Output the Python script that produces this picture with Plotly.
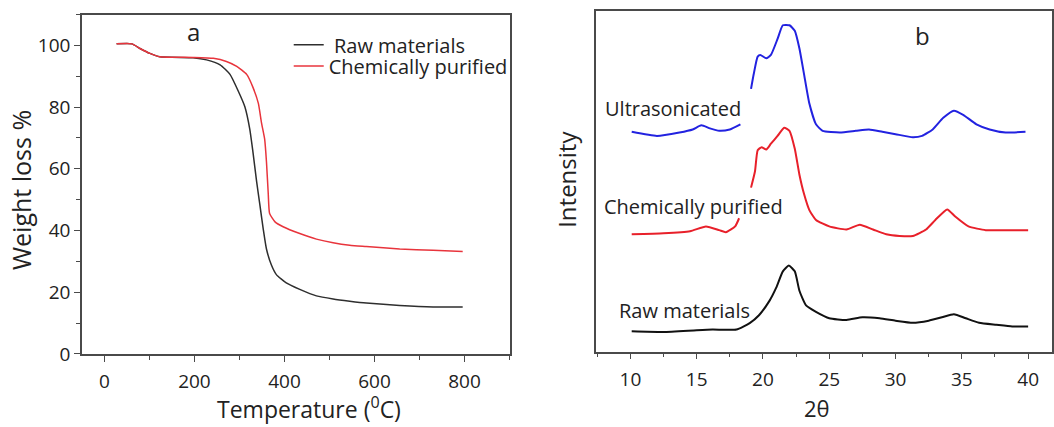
import plotly.graph_objects as go

# ---- Panel a: TGA ----
tga_raw_T = [27, 61, 79, 101, 123, 197, 227, 257, 279, 297, 312, 323, 330, 338, 345, 353, 360, 371, 382, 404, 434, 471, 508, 545, 582, 656, 730, 796]
tga_raw_W = [100.5, 100.5, 99.0, 97.4, 96.3, 96.0, 95.3, 93.7, 90.6, 85.3, 80.1, 72.8, 65.4, 56.0, 48.7, 40.3, 34.0, 28.8, 25.7, 23.0, 20.9, 18.8, 17.8, 17.1, 16.5, 15.7, 15.2, 15.2]
tga_pur_T = [27, 61, 79, 101, 123, 197, 242, 271, 294, 316, 330, 342, 349, 356, 360, 364, 367, 379, 397, 434, 471, 508, 545, 582, 656, 730, 796]
tga_pur_W = [100.5, 100.5, 99.0, 97.4, 96.3, 96.1, 95.8, 94.8, 93.2, 90.6, 86.4, 81.2, 74.9, 69.6, 62.3, 51.8, 45.5, 42.8, 41.2, 39.0, 37.2, 36.0, 35.2, 34.8, 34.0, 33.6, 33.2]

# ---- Panel b: XRD (arbitrary intensity units, stacked) ----
xrd_raw_x = [10.1, 12.5, 15.0, 16.2, 18.0, 19.0, 19.7, 20.5, 21.0, 21.5, 21.95, 22.4, 22.75, 23.25, 24.0, 25.0, 26.3, 27.5, 28.8, 30.0, 31.3, 32.5, 33.5, 34.4, 35.3, 36.3, 37.6, 38.8, 40.0]
xrd_raw_y = [6.0, 5.8, 6.3, 6.5, 6.5, 8.4, 10.7, 15.0, 18.8, 23.6, 25.3, 23.6, 17.9, 13.6, 11.7, 9.8, 9.3, 10.1, 9.8, 9.1, 8.5, 9.1, 10.1, 11.0, 9.8, 8.5, 7.9, 7.4, 7.4]

xrd_pur_x = [10.1, 12.5, 14.5, 15.7, 16.7, 17.2, 17.9, 18.2, None,
             19.1, 19.4, 19.6, 19.9, 20.25, 20.6, 21.1, 21.6, 22.0, 22.4, 22.75, 23.1, 23.5, 24.0, 25.0, 26.3, 27.3, 28.3, 29.3, 30.3, 31.3, 32.3, 33.0, 33.9, 34.5, 35.5, 36.8, 38.0, 40.0]
xrd_pur_y = [34.5, 34.8, 35.4, 36.8, 35.7, 35.1, 36.8, 39.2, None,
             48.2, 53.0, 59.2, 60.1, 59.4, 61.1, 63.4, 65.8, 64.9, 59.6, 52.0, 46.3, 41.6, 38.7, 36.8, 35.9, 37.3, 35.9, 34.5, 34.0, 34.0, 35.9, 38.7, 41.8, 39.7, 36.8, 35.7, 35.7, 35.7]

xrd_son_x = [10.1, 12.0, 13.7, 14.7, 15.35, 16.0, 16.7, 17.5, 18.3, None,
             19.1, 19.3, 19.6, 19.8, 20.25, 20.6, 21.1, 21.5, 22.0, 22.4, 22.75, 23.1, 23.5, 24.0, 24.5, 25.8, 27.0, 28.0, 29.0, 30.0, 31.3, 32.0, 32.8, 33.6, 34.4, 35.1, 36.1, 37.1, 38.3, 39.8]
xrd_son_y = [64.6, 63.4, 64.4, 65.3, 66.5, 65.6, 64.9, 65.3, 66.8, None,
             77.2, 81.5, 86.7, 87.2, 86.2, 87.2, 91.9, 95.9, 95.9, 94.3, 89.1, 81.5, 72.9, 66.8, 64.9, 64.4, 64.9, 65.3, 64.6, 63.9, 63.0, 63.4, 65.3, 68.7, 70.8, 69.6, 66.8, 65.3, 64.4, 64.6]

W, H = 1054, 427
FONT = "Open Sans"
TXT = "#222222"
AX = "#4a4a4a"

def px(x):
    return x / W

def py(y):
    return 1 - y / H

fig = go.Figure()
fig.add_trace(go.Scatter(x=tga_raw_T, y=tga_raw_W, mode="lines", name=" Raw materials", legend="legend",
                         line=dict(color="#2e2e2e", width=1.5, shape="spline", smoothing=0.5),
                         xaxis="x", yaxis="y"))
fig.add_trace(go.Scatter(x=tga_pur_T, y=tga_pur_W, mode="lines", name="Chemically purified", legend="legend2",
                         line=dict(color="#e8343c", width=1.5, shape="spline", smoothing=0.5),
                         xaxis="x", yaxis="y"))

fig.add_trace(go.Scatter(x=xrd_raw_x, y=xrd_raw_y, mode="lines", showlegend=False,
                         line=dict(color="#111111", width=2, shape="spline", smoothing=0.5),
                         xaxis="x2", yaxis="y2"))
fig.add_trace(go.Scatter(x=xrd_pur_x, y=xrd_pur_y, mode="lines", showlegend=False, connectgaps=False,
                         line=dict(color="#e8202a", width=2, shape="spline", smoothing=0.5),
                         xaxis="x2", yaxis="y2"))
fig.add_trace(go.Scatter(x=xrd_son_x, y=xrd_son_y, mode="lines", showlegend=False, connectgaps=False,
                         line=dict(color="#2222e0", width=2, shape="spline", smoothing=0.5),
                         xaxis="x2", yaxis="y2"))

common_axis = dict(showline=True, linecolor=AX, linewidth=1.5, mirror=True, showgrid=False,
                   zeroline=False, ticks="outside", tickcolor=AX, tickwidth=1.3, ticklen=6,
                   tickfont=dict(family=FONT, size=19, color=TXT))

leg_common = dict(xanchor="left", yanchor="top", bgcolor="rgba(0,0,0,0)",
                  font=dict(family=FONT, size=20, color=TXT), tracegroupgap=0)

fig.update_layout(
    width=W, height=H,
    margin=dict(l=0, r=0, t=0, b=0),
    paper_bgcolor="white", plot_bgcolor="white",
    font=dict(family=FONT, color=TXT),
    xaxis=dict(domain=[px(82), px(510)], range=[-50, 900], tick0=0, dtick=200,
               minor=dict(dtick=100, ticks="outside", ticklen=4, tickcolor=AX),
               anchor="y", ticklabelstandoff=4, **common_axis),
    yaxis=dict(domain=[py(365), py(15)], range=[0, 110], tick0=0, dtick=20,
               minor=dict(dtick=10, ticks="outside", ticklen=4, tickcolor=AX),
               anchor="x", **common_axis),
    xaxis2=dict(domain=[px(597), px(1053)], range=[7.44, 41.8], tick0=10, dtick=5,
                minor=dict(dtick=2.5, ticks="outside", ticklen=4, tickcolor=AX),
                anchor="y2", ticklabelstandoff=4, **common_axis),
    yaxis2=dict(domain=[py(362.7), py(11.7)], range=[0, 100], showticklabels=False,
                showline=True, linecolor=AX, linewidth=1.5, mirror=True, showgrid=False,
                zeroline=False, ticks="", anchor="x2"),
    legend=dict(x=px(289), y=py(26), **leg_common),
    legend2=dict(x=px(289), y=py(48), **leg_common),
    showlegend=True,
)

ann = [
    dict(text="a", x=px(194), y=py(33), size=24, angle=0),
    dict(text="b", x=px(923), y=py(37), size=24, angle=0),
    dict(text="Weight loss %", x=px(21), y=py(196), size=25, angle=-90),
    dict(text="Temperature (<sup>0</sup>C)", x=px(309), y=py(421), size=23, angle=0),
    dict(text="2θ", x=px(818), y=py(421), size=22, angle=0),
    dict(text="Intensity", x=px(567), y=py(185), size=24, angle=-90),
]
for a in ann:
    fig.add_annotation(text=a["text"], x=a["x"], y=a["y"], xref="paper", yref="paper",
                       xanchor="center", yanchor="middle", showarrow=False, textangle=a["angle"],
                       font=dict(family=FONT, size=a["size"], color=TXT))

labels = [
    ("Ultrasonicated", 604, 112),
    ("Chemically purified", 603, 213),
    ("Raw materials", 618, 320),
]
for t, x, y in labels:
    fig.add_annotation(text=t, x=px(x), y=py(y), xref="paper", yref="paper",
                       xanchor="left", yanchor="middle", showarrow=False,
                       font=dict(family=FONT, size=20, color=TXT))

fig.write_html("out.html")
